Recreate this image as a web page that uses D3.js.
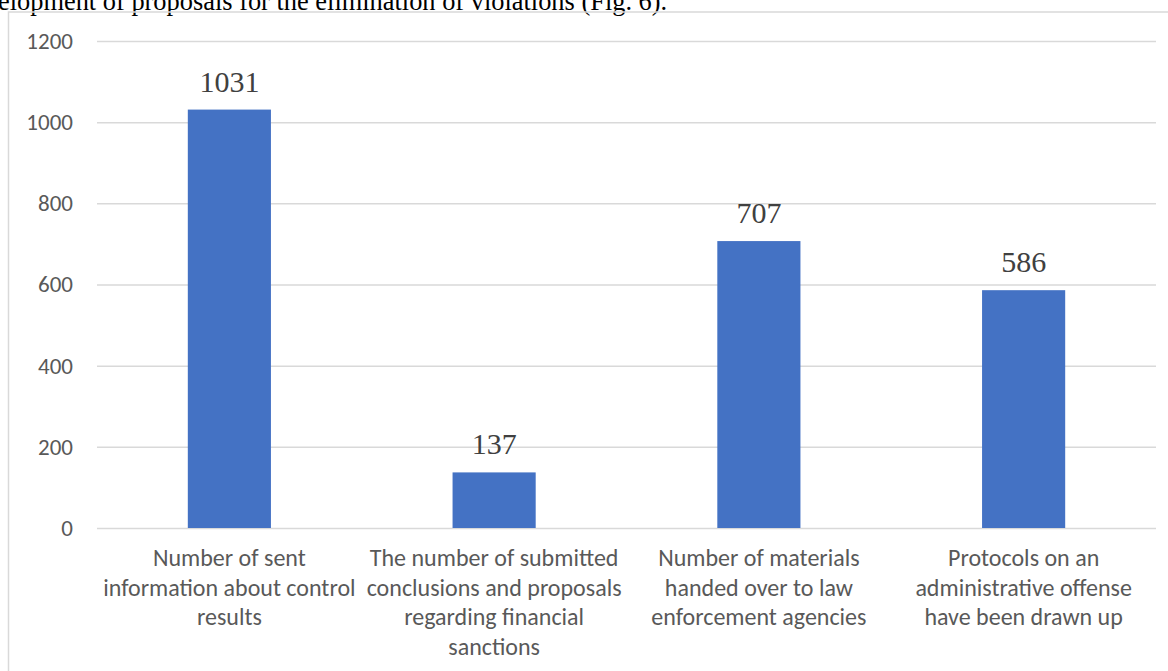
<!DOCTYPE html>
<html>
<head>
<meta charset="utf-8">
<script src="https://cdn.jsdelivr.net/npm/d3@7"></script>
<style>
  html, body { margin: 0; padding: 0; background: #fff; }
  svg { display: block; }
</style>
</head>
<body>
<svg id="chart" width="1168" height="671"></svg>
<script>
// Control results, counts per category
const categories = [
  ["Number of sent", "information about control", "results"],
  ["The number of submitted", "conclusions and proposals", "regarding financial", "sanctions"],
  ["Number of materials", "handed over to law", "enforcement agencies"],
  ["Protocols on an", "administrative offense", "have been drawn up"]
];
const values = [1031, 137, 707, 586];
const yTicks = [0, 200, 400, 600, 800, 1000, 1200];
const captionText = "elopment of proposals for the elimination of violations (Fig. 6).";

const svg = d3.select("#chart");
const W = 1168, H = 671;
const sansFont = "Carlito, Lato, 'Liberation Sans', sans-serif";
const serifFont = "'Liberation Serif', 'Times New Roman', serif";

// Running text of the page above the figure
svg.append("text")
  .attr("x", -2).attr("y", 9.5)
  .attr("font-family", serifFont)
  .attr("font-size", 26.4)
  .attr("fill", "#000")
  .text(captionText);

// Figure frame (top and left edges visible)
svg.append("path")
  .attr("d", `M${W},12 H8.5 V${H}`)
  .attr("fill", "none")
  .attr("stroke", "#d9d9d9")
  .attr("stroke-width", 1.5);

const plot = { left: 97, right: 1156, top: 41, bottom: 528 };

const x = d3.scaleBand()
  .domain(d3.range(categories.length))
  .range([plot.left, plot.right])
  .paddingInner(0.686)
  .paddingOuter(0.343);

const y = d3.scaleLinear()
  .domain([0, 1200])
  .range([plot.bottom, plot.top]);

// Horizontal gridlines via axis
const yAxis = d3.axisLeft(y)
  .tickValues(yTicks)
  .tickSize(-(plot.right - plot.left))
  .tickPadding(24)
  .tickFormat(d3.format("d"));

const gy = svg.append("g")
  .attr("transform", `translate(${plot.left},0)`)
  .call(yAxis);
gy.select(".domain").remove();
gy.selectAll(".tick line")
  .attr("stroke", "#d9d9d9")
  .attr("stroke-width", 1.5);
gy.selectAll(".tick text")
  .attr("font-family", sansFont)
  .attr("font-size", 23)
  .attr("fill", "#595959");

// Bars
svg.append("g").selectAll("rect")
  .data(values)
  .join("rect")
  .attr("x", (d, i) => x(i))
  .attr("width", x.bandwidth())
  .attr("y", d => y(d))
  .attr("height", d => y(0) - y(d))
  .attr("fill", "#4472c4");

// Value labels
svg.append("g").selectAll("text")
  .data(values)
  .join("text")
  .attr("x", (d, i) => x(i) + x.bandwidth() / 2)
  .attr("y", d => y(d) - 18)
  .attr("text-anchor", "middle")
  .attr("font-family", serifFont)
  .attr("font-size", 30)
  .attr("fill", "#404040")
  .text(d => d);

// Category labels (wrapped lines)
const catG = svg.append("g").selectAll("text")
  .data(categories)
  .join("text")
  .attr("text-anchor", "middle")
  .attr("font-family", sansFont)
  .attr("font-size", 24)
  .attr("fill", "#595959");
catG.selectAll("tspan")
  .data((lines, i) => lines.map(l => ({ l, i })))
  .join("tspan")
  .attr("x", d => x(d.i) + x.bandwidth() / 2)
  .attr("y", (d, j) => 566 + j * 29.5)
  .text(d => d.l);
</script>
</body>
</html>
